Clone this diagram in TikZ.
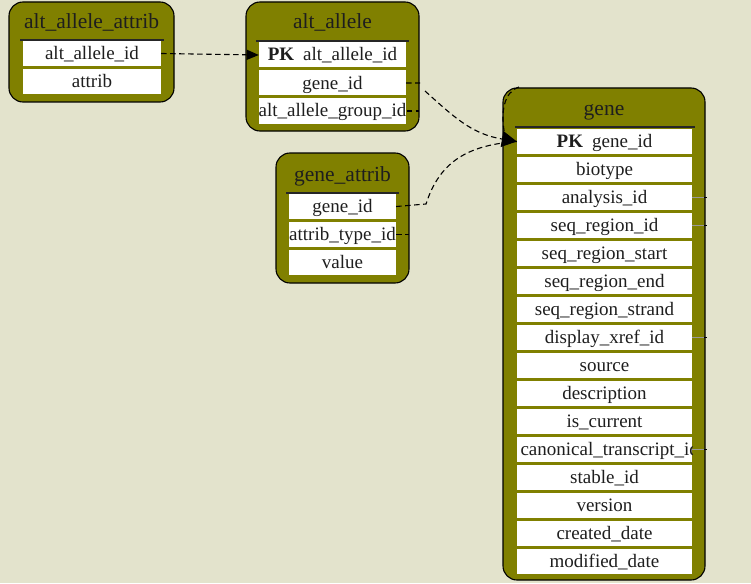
\documentclass[tikz,border=0pt]{standalone}
\usepackage{fontspec}
\setmainfont{Liberation Serif}
\usetikzlibrary{arrows.meta,calc}
\definecolor{bgc}{RGB}{227,227,204}
\definecolor{olivec}{RGB}{128,128,0}
\definecolor{txtc}{RGB}{30,30,30}
\tikzset{
  tablebox/.style={draw=black, line width=1.1pt, fill=olivec, rounded corners=14pt},
  sepline/.style={draw=black!85, line width=1.8pt},
  title/.style={font=\fontsize{21.5}{23}\selectfont, text=txtc, inner sep=0pt, anchor=base},
  row/.style={fill=white, minimum height=25pt, inner sep=0pt, text height=15pt, text depth=3pt, font=\fontsize{19}{21}\selectfont, text=txtc},
  fk/.style={draw=black, dashed, dash pattern=on 5.5pt off 3.5pt, line width=1.1pt},
  stub/.style={draw=black!40, line width=0.6pt},
  tick/.style={draw=black, line width=1.2pt},
}
\begin{document}
\begin{tikzpicture}[x=1pt,y=-1pt]
\fill[bgc] (0,0) rectangle (751,583);
\useasboundingbox (0,0) rectangle (751,583);

% ---------- alt_allele_attrib ----------
\draw[tablebox] (9,2) rectangle (174,102);
\node[title] (taaa) at (91.5,28.5) {alt\_allele\_attrib};
\draw[sepline] (20,40) -- (164,40);
\node[row, minimum width=138pt] (aaa1) at (92,53.5) {alt\_allele\_id};
\node[row, minimum width=138pt] (aaa2) at (92,81.5) {attrib};

% ---------- alt_allele ----------
\draw[tablebox] (246,2) rectangle (419,131);
\node[title] (taa) at (332.5,29) {alt\_allele};
\draw[sepline] (256,41) -- (409,41);
\node[row, minimum width=147pt] (aa1) at (332.5,55) {\textbf{PK}\hspace{9pt}alt\_allele\_id};
\node[row, minimum width=147pt] (aa2) at (332.5,83) {gene\_id};
\node[row, minimum width=147pt] (aa3) at (332.5,111) {alt\_allele\_group\_id};

% ---------- gene_attrib ----------
\draw[tablebox] (276,153) rectangle (409,283);
\node[title] (tga) at (342.5,181) {gene\_attrib};
\draw[sepline] (286,193) -- (399,193);
\node[row, minimum width=107pt] (ga1) at (342.5,206.5) {gene\_id};
\node[row, minimum width=107pt] (ga2) at (342.5,234.5) {attrib\_type\_id};
\node[row, minimum width=107pt] (ga3) at (342.5,262.5) {value};

% ---------- gene ----------
\draw[tablebox] (503,88) rectangle (705,580);
\node[title] (tg) at (604,115) {gene};
\draw[sepline] (515,127) -- (695,127);
\node[row, minimum width=175pt] (g1) at (604.5,141.5) {\textbf{PK}\hspace{9pt}gene\_id};
\node[row, minimum width=175pt] (g2) at (604.5,169.5) {biotype};
\node[row, minimum width=175pt] (g3) at (604.5,197.5) {analysis\_id};
\node[row, minimum width=175pt] (g4) at (604.5,225.5) {seq\_region\_id};
\node[row, minimum width=175pt] (g5) at (604.5,253.5) {seq\_region\_start};
\node[row, minimum width=175pt] (g6) at (604.5,281.5) {seq\_region\_end};
\node[row, minimum width=175pt] (g7) at (604.5,309.5) {seq\_region\_strand};
\node[row, minimum width=175pt] (g8) at (604.5,337.5) {display\_xref\_id};
\node[row, minimum width=175pt] (g9) at (604.5,365.5) {source};
\node[row, minimum width=175pt] (g10) at (604.5,393.5) {description};
\node[row, minimum width=175pt] (g11) at (604.5,421.5) {is\_current};
\node[row, minimum width=175pt] (g12) at (604.5,449.5) {};
\begin{scope}
  \clip (g12.south west) rectangle (g12.north east);
  \node[font=\fontsize{19}{21}\selectfont, text=txtc, inner sep=0pt, text height=15pt, text depth=3pt, anchor=west] (g12t) at ($(g12.west)+(3.5,0)$) {canonical\_transcript\_id};
\end{scope}
\node[row, minimum width=175pt] (g13) at (604.5,477.5) {stable\_id};
\node[row, minimum width=175pt] (g14) at (604.5,505.5) {version};
\node[row, minimum width=175pt] (g15) at (604.5,533.5) {created\_date};
\node[row, minimum width=175pt] (g16) at (604.5,561.5) {modified\_date};

% ---------- connectors ----------
\draw[fk, -{Triangle[length=12pt,width=10pt]}] (aaa1.east) -- (aa1.west);

\coordinate (aa2stub) at (420,83);
\coordinate (aa2c) at (425,91);
\draw[fk, -{Triangle[length=15pt,width=16pt]}] (aa2.east) -- (aa2stub)
   (aa2c) .. controls (455,118) and (472,134) .. (g1.west);

\coordinate (ga1k) at (426,204);
\draw[fk] (ga1.east) -- (ga1k) .. controls (440,160) and (470,145) .. (g1.west);

\coordinate (gtop) at (519,87);
\coordinate (gloop) at (505,136);
\draw[fk] (gtop) .. controls (504,92) and (500,112) .. (gloop);

\coordinate (aa3e) at (419,111);
\draw[fk] (aa3.east) -- (aa3e);
\coordinate (ga2e) at (409,234.5);
\draw[fk] (ga2.east) -- (ga2e);

\foreach \r in {g3,g4,g8,g12}{
  \coordinate (\r e) at (705,0 |- \r.east);
  \draw[stub] (\r.east) -- (\r e);
  \draw[tick] ($(\r e)+(-1,0)$) -- ($(\r e)+(2,0)$);
}
\end{tikzpicture}
\end{document}
